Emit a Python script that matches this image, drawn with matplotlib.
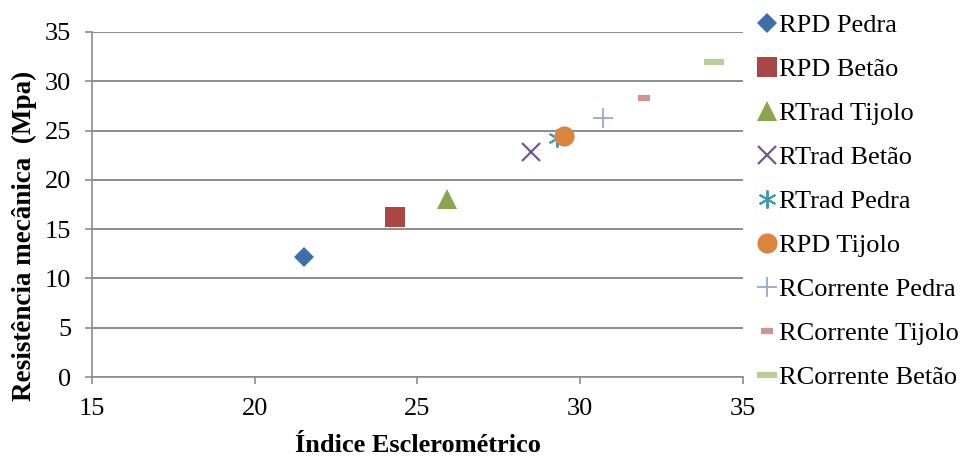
import matplotlib
matplotlib.use('Agg')
from matplotlib import pyplot as plt

plt.rcParams['font.family'] = ['Liberation Serif', 'DejaVu Serif']

# one point per series: (indice esclerometrico, resistencia)
series_names = ['RPD Pedra', 'RPD Betão', 'RTrad Tijolo', 'RTrad Betão', 'RTrad Pedra',
                'RPD Tijolo', 'RCorrente Pedra', 'RCorrente Tijolo', 'RCorrente Betão']
x_vals = [21.5, 24.3, 25.9, 28.5, 29.3, 29.5, 30.7, 31.95, 34.1]
y_vals = [12.2, 16.2, 18.1, 22.8, 24.2, 24.4, 26.3, 28.3, 32.0]

colors = ['#3F6FAA', '#AA4643', '#89A54E', '#71588F', '#4198AF',
          '#DB843D', '#93A9CF', '#D19392', '#B9CD96']
# marker, size (pt), edge width
styles = [('D', 10.5, 0), ('s', 14, 0), ('^', 14, 0), ('x', 13, 1.6), ((6, 2, 0), 13, 1.4),
          ('o', 14.5, 0), ('+', 14, 1.3), ('_', 8, 4.5), ('_', 14.5, 4.5)]

fig = plt.figure(figsize=(9.63, 4.57), dpi=100)
ax = fig.add_axes([0.0955, 0.175, 0.676, 0.755])

for name, xv, yv, c, (m, ms, mew) in zip(series_names, x_vals, y_vals, colors, styles):
    ax.plot([xv], [yv], linestyle='none', marker=m, markersize=ms, color=c,
            markeredgewidth=mew, label=name)

ax.set_xlim(15, 35)
ax.set_ylim(0, 35)
ax.set_xticks(range(15, 36, 5))
ax.set_yticks(range(0, 36, 5))
ax.yaxis.grid(True, color='#8C8C8C', linewidth=1.4)
ax.set_axisbelow(True)
for side in ['top', 'right']:
    ax.spines[side].set_visible(False)
for side in ['left', 'bottom']:
    ax.spines[side].set_color('#8C8C8C')
    ax.spines[side].set_linewidth(1.2)
ax.tick_params(axis='both', colors='#8C8C8C', labelcolor='black', labelsize=19,
               length=5, width=1.2, direction='out')
ax.tick_params(axis='y', pad=10)
ax.tick_params(axis='x', pad=10)

ax.set_xlabel('Índice Esclerométrico', fontsize=19, fontweight='bold', labelpad=10)
ax.set_ylabel('Resistência mecânica  (Mpa)', fontsize=19.5, fontweight='bold')
ax.yaxis.set_label_coords(-0.084, 0.409)

ax.legend(loc='upper left', bbox_to_anchor=(0.7756, 0.994), bbox_transform=fig.transFigure,
          frameon=False, fontsize=19, handlelength=0.7, handletextpad=0.1,
          labelspacing=0.78, borderaxespad=0, numpoints=1)

fig.savefig('out.png', dpi=100)
